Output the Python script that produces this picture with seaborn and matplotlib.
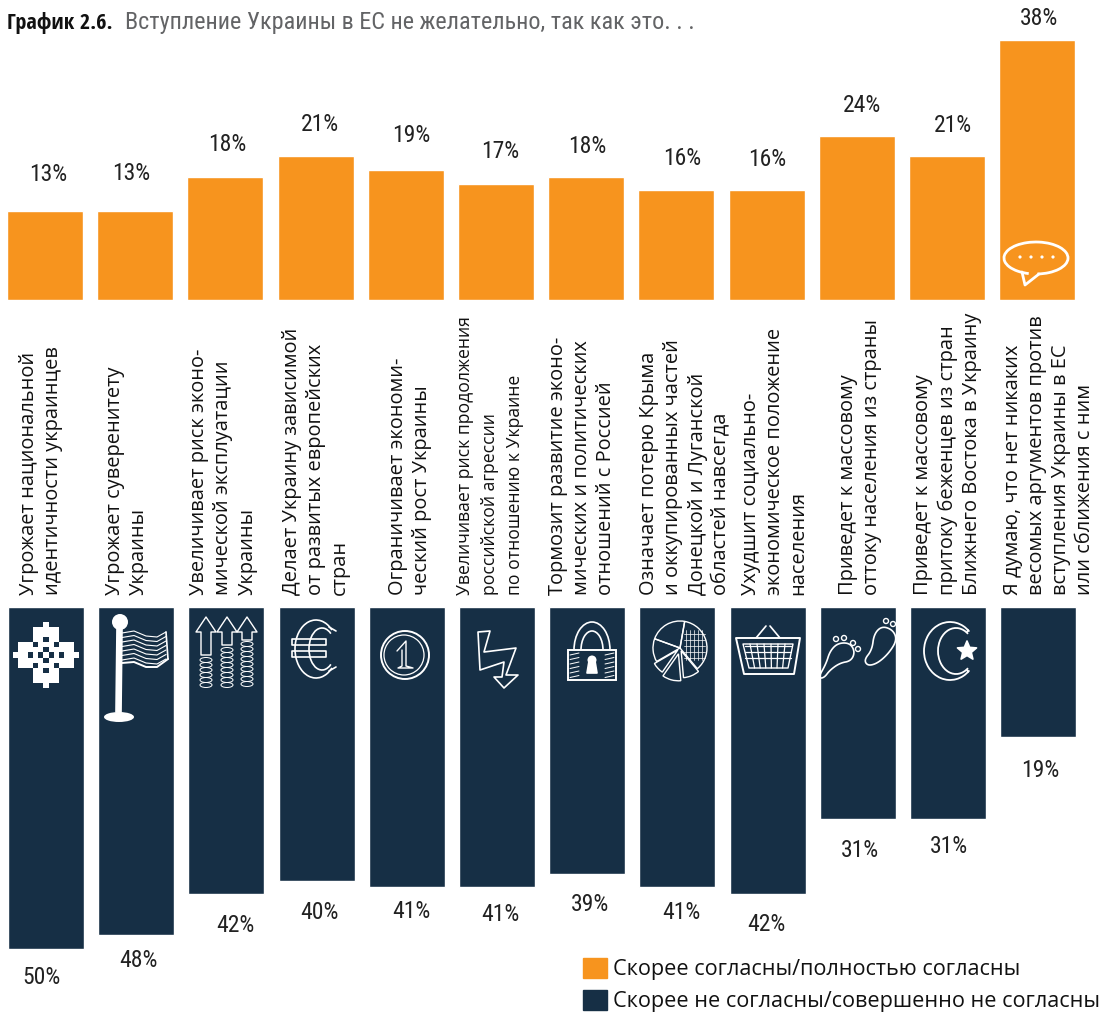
# -*- coding: utf-8 -*-
import pandas as pd
import numpy as np
import matplotlib
matplotlib.use('Agg')
import matplotlib.pyplot as plt
import seaborn as sns
from matplotlib.patches import Circle, Arc, Polygon, Rectangle, Patch, Ellipse, Wedge

# data
labels = [
    'Угрожает национальной\nидентичности украинцев',
    'Угрожает суверенитету\nУкраины',
    'Увеличивает риск эконо-\nмической эксплуатации\nУкраины',
    'Делает Украину зависимой\nот развитых европейских\nстран',
    'Ограничивает экономи-\nческий рост Украины',
    'Увеличивает риск продолжения\nроссийской агрессии\nпо отношению к Украине',
    'Тормозит развитие эконо-\nмических и политических\nотношений с Россией',
    'Означает потерю Крыма\nи оккупированных частей\nДонецкой и Луганской\nобластей навсегда',
    'Ухудшит социально-\nэкономическое положение\nнаселения',
    'Приведет к массовому\nоттоку населения из страны',
    'Приведет к массовому\nпритоку беженцев из стран\nБлижнего Востока в Украину',
    'Я думаю, что нет никаких\nвесомых аргументов против\nвступления Украины в ЕС\nили сближения с ним',
]
agree = [13, 13, 18, 21, 19, 17, 18, 16, 16, 24, 21, 38]
disagree = [50, 48, 42, 40, 41, 41, 39, 41, 42, 31, 31, 19]
legend_labels = ['Скорее согласны/полностью согласны',
                 'Скорее не согласны/совершенно не согласны']
title_bold = 'График 2.6.'
title_rest = 'Вступление Украины в ЕС не желательно, так как это. . .'

# label nudges in pixels (dx from bar centre, distance from bar end)
agree_dx = [3, -4, 2, 4, 5, 4, 1, 6, 1, 5, 6, 2]
agree_dy = [36, 37, 32, 32, 34, 32, 30, 32, 31, 30, 31, 21]
disagree_dx = [-5, 2, 9, 3, 5, 3, 3, 4, -1, 2, 1, 2]
disagree_dy = [28, 25, 31, 32, 24, 27, 31, 25, 30, 31, 27, 34]
label_dx = [-27, -31, -37, -35, -19, -41, -39, -38, -27, -20, -35, -35]

ORANGE = '#F7941E'
NAVY = '#162F45'
W, H = 1110, 1018
PITCH = 90.2
PX = 72 / 100
NARROW = 'Roboto Condensed'

sns.set_style('white')
plt.rcParams['font.family'] = ['Open Sans', 'DejaVu Sans']

fig = plt.figure(figsize=(W / 100, H / 100), dpi=100)
top = fig.add_axes([0, 1 - 300 / H, 1, 300 / H])
bot = fig.add_axes([0, 0, 1, (H - 607) / H])

df = pd.DataFrame({'label': labels, 'agree': agree, 'disagree': disagree})
sns.barplot(data=df, x='label', y='agree', color=ORANGE, saturation=1, width=76 / PITCH, ax=top)
sns.barplot(data=df, x='label', y='disagree', color=NAVY, saturation=1, width=76 / PITCH, ax=bot)

top.set_xlim(-45 / PITCH, (W - 45) / PITCH)
top.set_ylim(0, 300 / 6.85)
bot.set_xlim(-46 / PITCH, (W - 46) / PITCH)
bot.set_ylim((H - 607) / 6.84, 0)
for ax in (top, bot):
    ax.axis('off')
    ax.patch.set_alpha(0)

for i, v in enumerate(agree):
    top.annotate(f'{v}%', xy=(i, v), xytext=(agree_dx[i] * PX, agree_dy[i] * PX),
                 textcoords='offset points', ha='center', va='center',
                 fontsize=17, family=NARROW, color='#222222', annotation_clip=False)
for i, v in enumerate(disagree):
    bot.annotate(f'{v}%', xy=(i, v), xytext=(disagree_dx[i] * PX, -disagree_dy[i] * PX),
                 textcoords='offset points', ha='center', va='center',
                 fontsize=17, family=NARROW, color='#222222', annotation_clip=False)

# rotated category labels, they sit just above the navy bars
for i, lab in enumerate(labels):
    # the sixth label is set tighter in the original
    size = 12.7 if i == 5 else 14.4
    spacing = 1.5 if i == 5 else 1.27
    bot.annotate(lab, xy=(i, 1), xycoords=('data', 'axes fraction'),
                 xytext=(label_dx[i] * PX, 12 * PX), textcoords='offset points',
                 rotation=90, ha='left', va='bottom', multialignment='left',
                 fontsize=size, linespacing=spacing, color='#111111', annotation_clip=False)

fig.text(7 / W, 1 - 29 / H, title_bold, fontsize=16, fontweight='bold', family='Open Sans Condensed', color='#111111')
fig.text(125 / W, 1 - 29 / H, title_rest, fontsize=17.4, family=NARROW, color='#636466')

handles = [Patch(color=ORANGE), Patch(color=NAVY)]
fig.legend(handles, legend_labels, loc='lower right', bbox_to_anchor=(1109 / W, -3 / H), frameon=False,
           fontsize=15.6, handlelength=1.13, handleheight=1.06, handletextpad=0.27,
           labelspacing=0.45, borderpad=0.2, borderaxespad=0.2, labelcolor='#111111')

# icons are drawn on a pixel overlay
ov = fig.add_axes([0, 0, 1, 1], zorder=5)
ov.set_xlim(0, W)
ov.set_ylim(H, 0)
ov.axis('off')
ov.patch.set_alpha(0)


def line(xs, ys, lw=1.2):
    ov.plot(xs, ys, color='white', lw=lw, solid_capstyle='round')


def poly(pts, fill=False, lw=1.2):
    ov.add_patch(Polygon(pts, closed=True, fill=fill, facecolor='white', edgecolor='white', lw=lw, joinstyle='round'))


def smooth(pts, n=3):
    # corner cutting, makes a closed outline round
    pts = np.array(pts, dtype=float)
    for _ in range(n):
        nxt = np.roll(pts, -1, axis=0)
        pts = np.column_stack([0.75 * pts + 0.25 * nxt, 0.25 * pts + 0.75 * nxt]).reshape(-1, 2)
    return pts


def snowflake(cx, cy, s=5.1):
    cells = [(0, 0), (1, 1), (2, 1), (3, 1), (4, 1), (3, 2), (4, 2), (5, 2), (1, 2), (1, 3), (1, 4),
             (2, 3), (2, 4), (2, 5), (0, 2), (2, 0), (0, 5), (0, 6), (0, 4), (1, 5), (5, 0), (6, 0), (4, 0), (5, 1)]
    for dx, dy in cells:
        for sx in (-1, 1):
            for sy in (-1, 1):
                ov.add_patch(Rectangle((cx + sx * dx * s - s / 2, cy + sy * dy * s - s / 2), s, s,
                                       color='white', lw=0))


def flag():
    ov.add_patch(Circle((120, 622), 8, color='white', lw=0))
    poly([(117, 628), (122, 628), (121, 712), (116, 712)], fill=True)
    ov.add_patch(Ellipse((119, 717), 30, 10, color='white', lw=0))
    for k in range(7):
        line([122, 134, 146, 157, 166],
             [633 + 4.5 * k, 631 + 4.5 * k, 636 + 4.5 * k, 637 + 4.5 * k, 632 + 4.5 * k], lw=0.8)
    line([122, 134, 146, 157, 168], [663, 662, 667, 667, 659], lw=1.4)
    line([166, 168], [632, 659])


def arrow_stack(x, y, shaft_end, stack_top):
    poly([(x, y), (x + 10, y + 15), (x + 5, y + 15), (x + 5, shaft_end), (x - 5, shaft_end), (x - 5, y + 15), (x - 10, y + 15)], lw=1)
    for yy in np.arange(stack_top, 684, 5):
        ov.add_patch(Ellipse((x, yy + 2), 12, 5, fill=False, edgecolor='white', lw=0.7))


def euro(cx, cy):
    ov.add_patch(Arc((cx, cy), 42, 58, theta1=50, theta2=310, color='white', lw=1.2))
    ov.add_patch(Arc((cx + 6, cy), 26, 42, theta1=60, theta2=300, color='white', lw=1.2))
    line([cx + 13, cx + 20], [cy - 22, cy - 18])
    line([cx + 13, cx + 20], [cy + 22, cy + 18])
    poly([(cx - 24, cy - 10), (cx + 10, cy - 10), (cx + 10, cy - 4), (cx - 24, cy - 4)])
    poly([(cx - 24, cy + 2), (cx + 10, cy + 2), (cx + 10, cy + 8), (cx - 24, cy + 8)])


def coin(cx, cy):
    ov.add_patch(Circle((cx, cy), 24, fill=False, edgecolor='white', lw=1.4))
    ov.add_patch(Circle((cx - 1, cy), 20, fill=False, edgecolor='white', lw=0.9))
    line([cx - 8, cx + 1, cx + 1, cx + 8, cx - 7, cx - 3, cx - 3], [cy - 4, cy - 14, cy + 11, cy + 13, cy + 13, cy + 11, cy - 5], lw=1)


def bolt(x, y):
    poly([(x, y), (x + 12, y - 1), (x + 6, y + 20), (x + 38, y + 16), (x + 28, y + 43), (x + 40, y + 43),
          (x + 26, y + 56), (x + 16, y + 45), (x + 24, y + 45), (x + 26, y + 30), (x + 2, y + 38)])


def lock(cx, cy):
    ov.add_patch(Rectangle((cx - 24, cy - 8), 48, 30, fill=False, edgecolor='white', lw=1.4))
    ov.add_patch(Arc((cx, cy - 8), 36, 56, theta1=180, theta2=360, color='white', lw=1.2))
    ov.add_patch(Arc((cx, cy - 8), 22, 38, theta1=180, theta2=360, color='white', lw=1.2))
    ov.add_patch(Circle((cx, cy + 2), 4.5, color='white', lw=0))
    poly([(cx - 3, cy + 3), (cx + 3, cy + 3), (cx + 5, cy + 15), (cx - 5, cy + 15)], fill=True)
    for k in range(6):
        line([cx - 22, cx - 13], [cy - 3 + k * 4.5, cy - 5 + k * 4.5], lw=0.7)
        line([cx + 13, cx + 22], [cy - 3 + k * 4.5, cy - 5 + k * 4.5], lw=0.7)


def pie(cx, cy):
    for a, b, off in [(-80, 50, 0), (50, 85, 3), (85, 125, 6), (125, 150, 3), (150, 200, 0), (200, 280, 0)]:
        m = np.deg2rad((a + b) / 2)
        ov.add_patch(Wedge((cx + off * np.cos(m), cy + off * np.sin(m)), 27, a, b, fill=False, edgecolor='white', lw=1))
    for k in range(5):
        line([cx + 6 + k * 4, cx + 6 + k * 4], [cy - 18, cy + 12], lw=0.5)
        line([cx + 4, cx + 25], [cy - 14 + k * 6, cy - 14 + k * 6], lw=0.5)


def basket(cx, cy):
    poly([(cx - 32, cy - 12), (cx + 32, cy - 12), (cx + 26, cy + 24), (cx - 24, cy + 24)], lw=1.4)
    poly([(cx - 25, cy - 6), (cx + 25, cy - 6), (cx + 20, cy + 18), (cx - 19, cy + 18)], lw=1)
    for k in range(1, 7):
        line([cx - 25 + k * 7, cx - 19 + k * 5.6], [cy - 6, cy + 18], lw=0.9)
    for k in (2, 8, 14):
        line([cx - 23, cx + 23], [cy - 6 + k, cy - 6 + k], lw=0.9)
    line([cx - 12, cx - 2], [cy - 12, cy - 24])
    line([cx + 12, cx + 2], [cy - 12, cy - 24])


def feet():
    poly(smooth([(818, 678), (826, 664), (830, 651), (838, 643), (850, 643), (855, 652), (851, 661),
                 (840, 663), (830, 670), (824, 678)]))
    poly(smooth([(864, 660), (872, 650), (874, 634), (882, 626), (893, 630), (897, 640), (889, 653),
                 (878, 663), (868, 666)]))
    for x, y in [(836, 639), (844, 638), (853, 643), (858, 649), (886, 621), (893, 624)]:
        ov.add_patch(Circle((x, y), 2.5, fill=False, edgecolor='white', lw=1))


def crescent(cx, cy):
    ov.add_patch(Arc((cx, cy), 52, 58, theta1=45, theta2=315, color='white', lw=1.3))
    ov.add_patch(Arc((cx + 6, cy), 36, 46, theta1=55, theta2=305, color='white', lw=1.3))
    line([cx + 18, cx + 17], [cy - 21, cy - 19])
    line([cx + 18, cx + 17], [cy + 21, cy + 19])
    t = np.deg2rad(np.arange(-90, 270, 36))
    r = np.where(np.arange(10) % 2 == 0, 10, 4.5)
    poly(list(zip(cx + 17 + r * np.cos(t), cy + r * np.sin(t))), fill=True)


def bubble(cx, cy):
    ov.add_patch(Arc((cx, cy), 64, 32, theta1=115, theta2=85, color='white', lw=2))
    line([cx - 14, cx - 11, cx + 3], [cy + 14, cy + 27, cy + 16], lw=2)
    for dx in (-14, -3, 8, 19):
        ov.add_patch(Circle((cx + dx - 2, cy - 1), 1.6, color='white', lw=0))


snowflake(46, 655)
flag()
arrow_stack(206, 617, 655, 658)
arrow_stack(227, 617, 645, 648)
arrow_stack(247, 617, 640, 642)
euro(316, 649)
coin(405, 655)
bolt(478, 632)
lock(592, 658)
pie(680, 648)
basket(768, 650)
feet()
crescent(950, 651)
bubble(1036, 258)

fig.savefig('out.png', dpi=100)
